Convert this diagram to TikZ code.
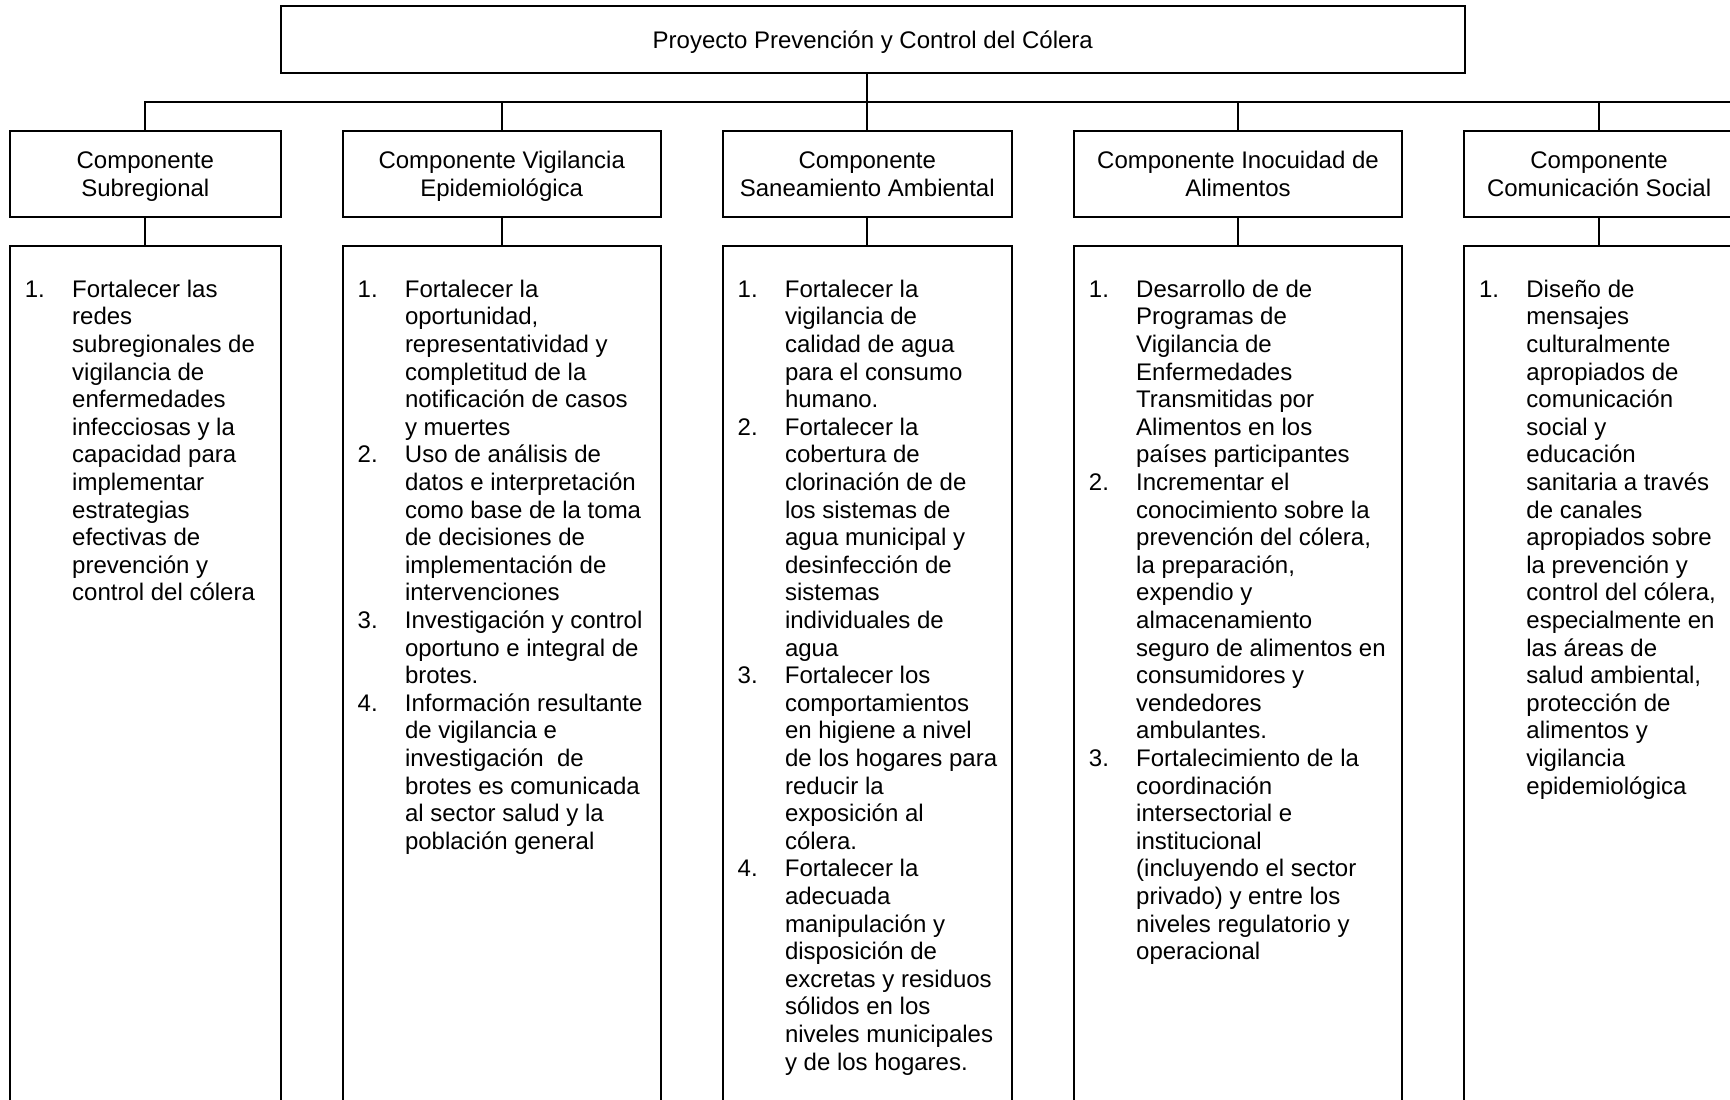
\documentclass[tikz,border=0pt]{standalone}
\usepackage{fontspec}
\setmainfont{Liberation Sans}
\usetikzlibrary{positioning}
\newcommand{\alto}{\rule{0pt}{13pt}}

\begin{document}
\begin{tikzpicture}[line width=1pt,
    node distance=31pt,
    font=\fontsize{12pt}{13.8pt}\selectfont,
    block/.style={rectangle,draw,outer sep=0pt,align=center},
    comp/.style={block,minimum height=42.75pt},
    lista/.style={rectangle,draw,outer sep=0pt,minimum height=440pt},
    txt/.style={inner sep=0pt}]
  \useasboundingbox (0,0) rectangle (865pt,-549.5pt);
  \clip (0,0) rectangle (865pt,-549.5pt);

  \node [block,minimum width=592.2pt,minimum height=33.5pt] (pr) at (436.4pt,-19.6pt)
        {\rule{0pt}{12pt}Proyecto Prevención y Control del Cólera};
  \coordinate [below=14.6pt of pr.south] (bus);

  % componentes
  \node [comp,minimum width=144.6pt] (c3) [below=29.15pt of pr,xshift=-2.75pt]
        {\alto Componente\\Saneamiento Ambiental\strut} edge (c3 |- pr.south);
  \node [comp,minimum width=159pt]   (c2) [left=of c3]
        {\alto Componente Vigilancia\\Epidemiológica\strut} edge (c2 |- bus);
  \node [comp,minimum width=135.4pt] (c1) [left=of c2]
        {\alto Componente\\Subregional\strut};
  \node [comp,minimum width=164.1pt] (c4) [right=of c3]
        {\alto Componente Inocuidad de\\Alimentos\strut} edge (c4 |- bus);
  \node [comp,minimum width=135pt]   (c5) [right=of c4]
        {\alto Componente\\Comunicación Social\strut} edge (c5 |- bus);
  \draw (c1.north) |- (bus) -- ++(440pt,0);

  % listas
  \node [lista,minimum width=135.4pt] (l1) [below=14.6pt of c1] {} edge (c1);
  \node [lista,minimum width=159pt]   (l2) [below=14.6pt of c2] {} edge (c2);
  \node [lista,minimum width=144.6pt] (l3) [below=14.6pt of c3] {} edge (c3);
  \node [lista,minimum width=164.1pt] (l4) [below=14.6pt of c4] {} edge (c4);
  \node [lista,minimum width=135pt]   (l5) [below=14.6pt of c5] {} edge (c5);

  \node [txt] (t1) [below right=15.6pt and 7pt of l1.north west]
  {\begin{tabular}{@{}p{23.65pt}@{}l@{}}
   1. & Fortalecer las\\
      & redes\\
      & subregionales de\\
      & vigilancia de\\
      & enfermedades\\
      & infecciosas y la\\
      & capacidad para\\
      & implementar\\
      & estrategias\\
      & efectivas de\\
      & prevención y\\
      & control del cólera
   \end{tabular}};
  \node [txt] (t2) [below right=15.6pt and 7pt of l2.north west]
  {\begin{tabular}{@{}p{23.65pt}@{}l@{}}
   1. & Fortalecer la\\
      & oportunidad,\\
      & representatividad y\\
      & completitud de la\\
      & notificación de casos\\
      & y muertes\\
   2. & Uso de análisis de\\
      & datos e interpretación\\
      & como base de la toma\\
      & de decisiones de\\
      & implementación de\\
      & intervenciones\\
   3. & Investigación y control\\
      & oportuno e integral de\\
      & brotes.\\
   4. & Información resultante\\
      & de vigilancia e\\
      & investigación\ \ de\\
      & brotes es comunicada\\
      & al sector salud y la\\
      & población general
   \end{tabular}};
  \node [txt] (t3) [below right=15.6pt and 7pt of l3.north west]
  {\begin{tabular}{@{}p{23.65pt}@{}l@{}}
   1. & Fortalecer la\\
      & vigilancia de\\
      & calidad de agua\\
      & para el consumo\\
      & humano.\\
   2. & Fortalecer la\\
      & cobertura de\\
      & clorinación de de\\
      & los sistemas de\\
      & agua municipal y\\
      & desinfección de\\
      & sistemas\\
      & individuales de\\
      & agua\\
   3. & Fortalecer los\\
      & comportamientos\\
      & en higiene a nivel\\
      & de los hogares para\\
      & reducir la\\
      & exposición al\\
      & cólera.\\
   4. & Fortalecer la\\
      & adecuada\\
      & manipulación y\\
      & disposición de\\
      & excretas y residuos\\
      & sólidos en los\\
      & niveles municipales\\
      & y de los hogares.
   \end{tabular}};
  \node [txt] (t4) [below right=15.6pt and 7pt of l4.north west]
  {\begin{tabular}{@{}p{23.65pt}@{}l@{}}
   1. & Desarrollo de de\\
      & Programas de\\
      & Vigilancia de\\
      & Enfermedades\\
      & Transmitidas por\\
      & Alimentos en los\\
      & países participantes\\
   2. & Incrementar el\\
      & conocimiento sobre la\\
      & prevención del cólera,\\
      & la preparación,\\
      & expendio y\\
      & almacenamiento\\
      & seguro de alimentos en\\
      & consumidores y\\
      & vendedores\\
      & ambulantes.\\
   3. & Fortalecimiento de la\\
      & coordinación\\
      & intersectorial e\\
      & institucional\\
      & (incluyendo el sector\\
      & privado) y entre los\\
      & niveles regulatorio y\\
      & operacional
   \end{tabular}};
  \node [txt] (t5) [below right=15.6pt and 7pt of l5.north west]
  {\begin{tabular}{@{}p{23.65pt}@{}l@{}}
   1. & Diseño de\\
      & mensajes\\
      & culturalmente\\
      & apropiados de\\
      & comunicación\\
      & social y\\
      & educación\\
      & sanitaria a través\\
      & de canales\\
      & apropiados sobre\\
      & la prevención y\\
      & control del cólera,\\
      & especialmente en\\
      & las áreas de\\
      & salud ambiental,\\
      & protección de\\
      & alimentos y\\
      & vigilancia\\
      & epidemiológica
   \end{tabular}};
\end{tikzpicture}
\end{document}
